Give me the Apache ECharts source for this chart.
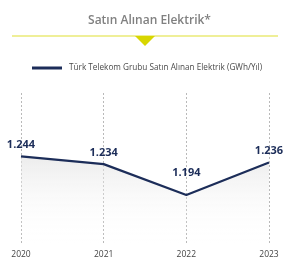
<!DOCTYPE html>
<html><head><meta charset="utf-8">
<script src="https://cdn.jsdelivr.net/npm/echarts@6/dist/echarts.min.js"></script>
<style>html,body{margin:0;padding:0;background:#fff}#c{width:299px;height:273px}</style>
</head><body><div id="c"></div>
<script>
var categories = ['2020', '2021', '2022', '2023'];
var values = [1244, 1234, 1194, 1236];
var seriesName = 'Türk Telekom Grubu Satın Alınan Elektrik (GWh/Yıl)';
var titleText = 'Satın Alınan Elektrik*';

function fmt(v){ return String(v).replace(/\B(?=(\d{3})+(?!\d))/g, '.'); }

var chart = echarts.init(document.getElementById('c'));
var navy = '#1c2d59';
chart.setOption({
  animation: false,
  textStyle: {fontFamily: 'Open Sans'},
  title: {text: titleText, left: 'center', top: 10,
    textStyle: {fontSize: 12, fontWeight: 600, color: '#808080', fontFamily: 'Open Sans'}},
  legend: {data: [seriesName], left: 27, top: 59, itemWidth: 30, itemHeight: 12, itemGap: 7,
    icon: 'path://M0,5 L30,5 L30,8 L0,8 Z',
    textStyle: {fontSize: 8.2, color: '#4a4a4a', fontFamily: 'Open Sans', padding: [0,0,0,2]}},
  graphic: [
    {type: 'line', shape: {x1: 12, y1: 36, x2: 278, y2: 36}, style: {stroke: '#e0e032', lineWidth: 1.2}},
    {type: 'polygon', shape: {points: [[135, 36], [155, 36], [145, 46]]}, style: {fill: '#d8d600'}}
  ],
  grid: {left: 21, right: 30, top: 93, bottom: 30, containLabel: false},
  xAxis: {type: 'category', data: categories, boundaryGap: false,
    axisLine: {show: false}, axisTick: {show: false},
    axisLabel: {fontSize: 8.5, color: '#444', margin: 7, fontFamily: 'Open Sans'},
    splitLine: {show: true, lineStyle: {type: [2, 2], color: '#b9b9b9', width: 1}}},
  yAxis: {type: 'value', min: 1132, max: 1326, show: false, splitLine: {show: false}},
  series: [{
    name: seriesName, type: 'line', data: values.map(function(v, i){
      return {value: v, label: {offset: i === 2 ? [0, -11] : [0, 0]}};
    }),
    symbol: 'circle', symbolSize: 0.1, showSymbol: true,
    lineStyle: {color: navy, width: 2.2}, itemStyle: {color: navy},
    areaStyle: {color: new echarts.graphic.LinearGradient(0, 0, 0, 1, [
      {offset: 0, color: 'rgba(225,225,225,0.9)'}, {offset: 1, color: 'rgba(255,255,255,0)'}])},
    label: {show: true, position: 'top', distance: 6, fontSize: 11, fontWeight: 'bold', color: navy,
      fontFamily: 'Open Sans', formatter: function(p){ return fmt(p.value); }}
  }]
});
</script></body></html>
